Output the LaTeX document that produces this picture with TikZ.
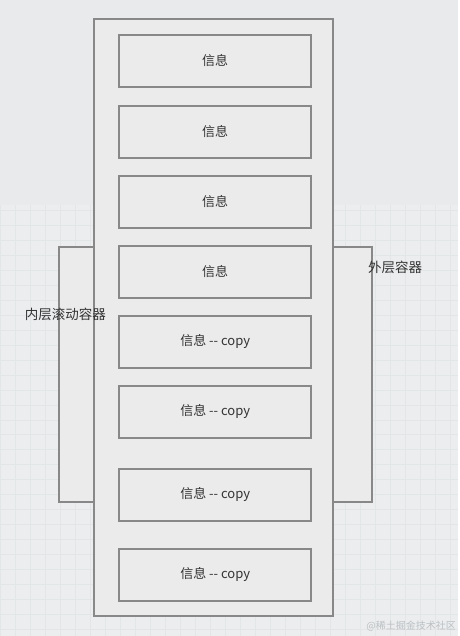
\documentclass[tikz,border=0pt]{standalone}
\usepackage{fontspec}
\usepackage{xcolor}
\usepackage{tikz}
\usetikzlibrary{positioning}
\newfontfamily\cjk{Noto Sans CJK SC}
\definecolor{canvasgray}{HTML}{E9EAEC}
\definecolor{gridfill}{HTML}{EBEDEE}
\definecolor{gridline}{HTML}{E2E6E7}
\definecolor{boxgray}{HTML}{EBEBEB}
\definecolor{edgegray}{HTML}{888888}
\definecolor{textgray}{HTML}{333333}
\definecolor{markgray}{HTML}{BCC0C3}

\begin{document}
\begin{tikzpicture}[x=1pt,y=-1pt,
    container/.style={draw=edgegray,fill=boxgray,line width=1.7pt,inner sep=0pt},
    msgbox/.style={container,minimum width=192pt,minimum height=52pt,
      font=\cjk\fontsize{13}{15}\selectfont,text=textgray},
    caption/.style={font=\cjk\fontsize{13.5}{15}\selectfont,text=textgray,inner sep=1pt}]
    % canvas
    \fill[canvasgray] (0,0) rectangle (458,636);
    \fill[gridfill] (0,205) rectangle (458,636);
    \draw[gridline,line width=0.6pt,step=15pt] (0,205) grid (458,636);
    % side containers
    \node[container,minimum width=35pt,minimum height=255pt] (innerleft) at (76.5,374.5) {};
    \node[container,minimum width=39pt,minimum height=255pt] (innerright) at (352.5,374.5) {};
    % outer container
    \node[container,minimum width=239pt,minimum height=597pt] (outer) at (213.5,317.5) {};
    % messages
    \foreach \i/\yy/\txt in {1/61/信息,2/132/信息,3/202/信息,4/272/信息,
        5/342/信息 {-}{-} copy,6/412/信息 {-}{-} copy,7/495/信息 {-}{-} copy,8/575/信息 {-}{-} copy}
      \node[msgbox] (msg\i) at (215,\yy) {\txt};
    % labels
    \node[caption] (outerlabel) at (395,268) {外层容器};
    \node[caption] (scrolllabel) at (65,315) {内层滚动容器};
    \node[font=\cjk\fontsize{10}{12}\selectfont,text=markgray] (mark) at (411,626) {@稀土掘金技术社区};
\end{tikzpicture}
\end{document}
